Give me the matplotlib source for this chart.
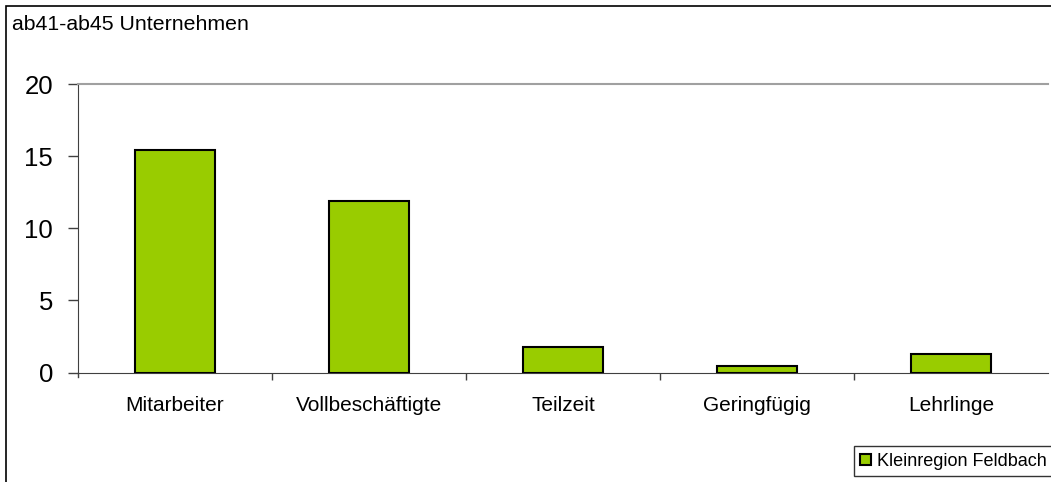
import matplotlib
matplotlib.use("Agg")
import matplotlib.pyplot as plt
from matplotlib.patches import Rectangle

categories = ["Mitarbeiter", "Vollbeschäftigte", "Teilzeit", "Geringfügig", "Lehrlinge"]
values = [15.4, 11.9, 1.8, 0.45, 1.25]
series_name = "Kleinregion Feldbach"
title = "ab41-ab45 Unternehmen"
yticks = [0, 5, 10, 15, 20]

plt.rcParams['font.family'] = ['Liberation Sans', 'DejaVu Sans']

W, H = 1051, 482
fig = plt.figure(figsize=(W / 100, H / 100), dpi=100)

# outer chart border
fig.patches.append(Rectangle((6 / W, -0.1), 1.2, 1 - 6 / H + 0.1, transform=fig.transFigure,
                             fill=False, edgecolor='black', linewidth=1.2))

ax = fig.add_axes([78 / W, 1 - 372.5 / H, 970 / W, (372.5 - 84) / H])
x = range(len(categories))
ax.bar(x, values, width=0.41, color='#99cc00', edgecolor='black', linewidth=1.5,
       label=series_name, zorder=3)
ax.set_xlim(-0.5, len(categories) - 0.5)
ax.set_ylim(0, 20)
ax.set_yticks(yticks)
ax.set_yticklabels([str(v) for v in yticks], fontsize=18.5)
ax.set_xticks([i + 0.5 for i in range(len(categories) - 1)])
ax.set_xticklabels([])
ax.set_xticks(list(x), minor=True)
ax.set_xticklabels(categories, minor=True, fontsize=15)
ax.tick_params(axis='x', which='minor', length=0, pad=17)
ax.tick_params(axis='x', which='major', length=5, width=1, direction='out', color='#404040')
ax.tick_params(axis='y', length=7, width=1, direction='out', color='#404040', pad=11)

ax.spines['right'].set_visible(False)
ax.spines['top'].set_color('#a0a0a0')
ax.spines['top'].set_linewidth(1.5)
ax.spines['left'].set_color('#404040')
ax.spines['bottom'].set_color('#404040')
ax.spines['left'].set_bounds(0, 20)
ax.plot([0, 0], [0, -5.0 / 14.45], transform=ax.get_yaxis_transform(), color='#404040',
        linewidth=1, clip_on=False)

fig.text(12 / W, 1 - 25 / H, title, fontsize=15.3, va='center', ha='left')

leg = fig.legend(loc='lower left', bbox_to_anchor=(854 / W, 1 - 476 / H), fontsize=13,
                 frameon=True, fancybox=False, edgecolor='black', handlelength=0.6,
                 handleheight=0.6, handletextpad=0.3, borderpad=0.35, borderaxespad=0)
leg.get_frame().set_linewidth(1)

fig.savefig("out.png", dpi=100)
